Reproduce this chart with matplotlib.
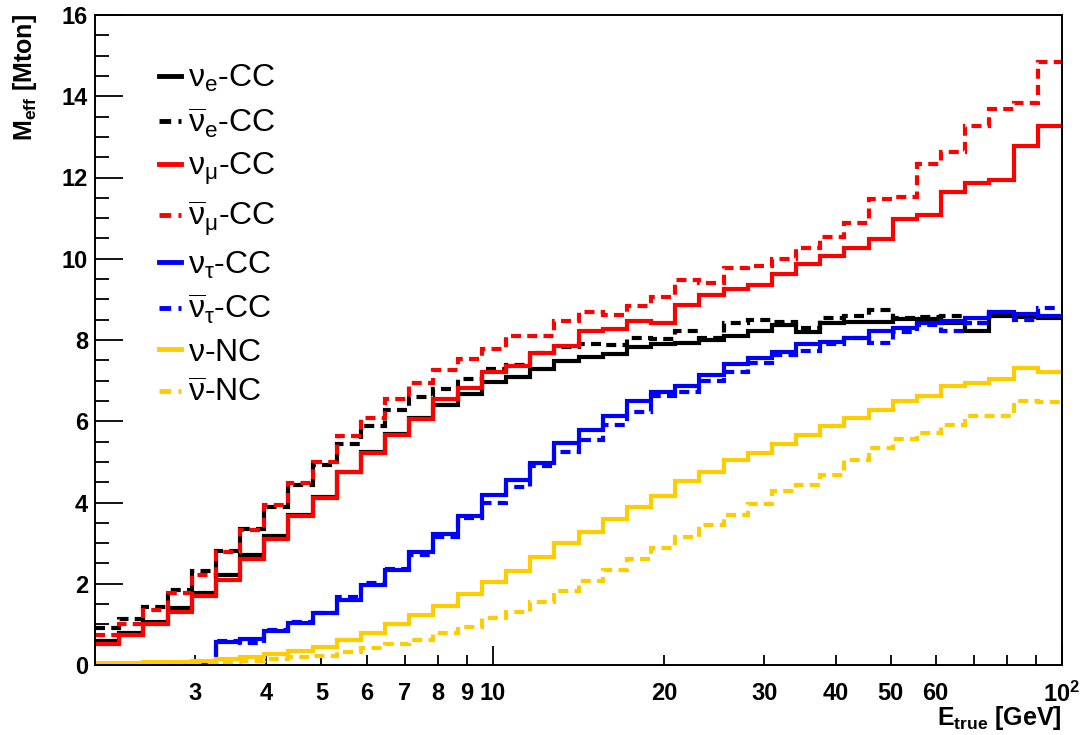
import numpy as np
import matplotlib
matplotlib.use("Agg")
import matplotlib.pyplot as plt
from matplotlib import font_manager
from matplotlib.lines import Line2D
from matplotlib.ticker import FixedLocator, FixedFormatter, MultipleLocator

# ---------------- data ----------------
E_MIN, E_MAX, N_BINS = 2.0, 100.0, 40   # log-spaced true-energy bins [GeV]

nue_cc = [0.58, 0.80, 1.07, 1.40, 1.77, 2.21, 2.70, 3.18, 3.70, 4.14,
          4.76, 5.25, 5.69, 6.09, 6.40, 6.67, 6.96, 7.08, 7.28, 7.49,
          7.57, 7.65, 7.84, 7.90, 7.92, 8.00, 8.09, 8.21, 8.36, 8.20,
          8.43, 8.44, 8.45, 8.51, 8.52, 8.42, 8.23, 8.58, 8.57, 8.54]
nuebar_cc = [0.90, 1.14, 1.42, 1.85, 2.32, 2.80, 3.36, 3.90, 4.43, 4.93,
             5.45, 5.89, 6.27, 6.59, 6.79, 7.04, 7.28, 7.39, 7.68, 7.84,
             7.90, 7.88, 8.05, 8.02, 8.21, 8.05, 8.43, 8.50, 8.45, 8.30,
             8.54, 8.58, 8.74, 8.54, 8.56, 8.58, 8.42, 8.65, 8.58, 8.56]
numu_cc = [0.52, 0.73, 1.00, 1.30, 1.70, 2.09, 2.60, 3.10, 3.66, 4.10,
           4.74, 5.22, 5.66, 6.06, 6.55, 6.82, 7.21, 7.36, 7.68, 7.86,
           8.21, 8.27, 8.48, 8.42, 8.87, 9.11, 9.25, 9.35, 9.62, 9.86,
           10.06, 10.26, 10.48, 10.98, 11.08, 11.64, 11.86, 11.95, 12.77, 13.26]
numubar_cc = [0.74, 1.02, 1.35, 1.78, 2.22, 2.78, 3.33, 3.93, 4.48, 5.00,
              5.63, 6.07, 6.55, 6.94, 7.26, 7.54, 7.79, 8.09, 8.10, 8.46,
              8.69, 8.62, 8.84, 9.05, 9.48, 9.40, 9.77, 9.83, 9.99, 10.26,
              10.53, 10.88, 11.48, 11.51, 12.33, 12.62, 13.26, 13.69, 13.83, 14.84]
nutau_cc = [0.00, 0.00, 0.00, 0.00, 0.00, 0.57, 0.63, 0.83, 1.03, 1.28,
            1.61, 1.97, 2.34, 2.79, 3.22, 3.67, 4.18, 4.56, 4.97, 5.46,
            5.79, 6.12, 6.49, 6.73, 6.86, 7.14, 7.41, 7.55, 7.70, 7.91,
            7.95, 8.06, 8.22, 8.29, 8.42, 8.48, 8.54, 8.69, 8.64, 8.60]
nutaubar_cc = [0.01, 0.01, 0.02, 0.02, 0.03, 0.60, 0.55, 0.85, 1.05, 1.27,
               1.68, 2.01, 2.36, 2.71, 3.16, 3.62, 4.00, 4.38, 4.90, 5.25,
               5.54, 5.90, 6.24, 6.61, 6.71, 7.00, 7.22, 7.43, 7.64, 7.72,
               7.90, 8.05, 7.92, 8.19, 8.37, 8.23, 8.42, 8.68, 8.50, 8.78]
nu_nc = [0.04, 0.05, 0.07, 0.08, 0.11, 0.15, 0.20, 0.26, 0.34, 0.45,
         0.62, 0.80, 1.02, 1.22, 1.46, 1.74, 2.05, 2.32, 2.67, 3.00,
         3.27, 3.59, 3.88, 4.17, 4.54, 4.76, 5.05, 5.21, 5.44, 5.66,
         5.89, 6.08, 6.28, 6.49, 6.63, 6.87, 6.94, 7.04, 7.32, 7.22]
nubar_nc = [0.02, 0.02, 0.03, 0.03, 0.05, 0.08, 0.10, 0.14, 0.19, 0.23,
            0.31, 0.41, 0.51, 0.61, 0.78, 0.94, 1.15, 1.31, 1.56, 1.81,
            2.08, 2.34, 2.60, 2.87, 3.14, 3.45, 3.69, 3.97, 4.29, 4.42,
            4.68, 5.05, 5.35, 5.57, 5.71, 5.91, 6.12, 6.14, 6.51, 6.47]

labels = [r'$\mathrm{\nu_{e}}$-CC', r'$\mathrm{\overline{\nu}_{e}}$-CC',
          r'$\mathrm{\nu_{\mu}}$-CC', r'$\mathrm{\overline{\nu}_{\mu}}$-CC',
          r'$\mathrm{\nu_{\tau}}$-CC', r'$\mathrm{\overline{\nu}_{\tau}}$-CC',
          r'$\mathrm{\nu}$-NC', r'$\mathrm{\overline{\nu}}$-NC']
series = [nue_cc, nuebar_cc, numu_cc, numubar_cc, nutau_cc, nutaubar_cc, nu_nc, nubar_nc]
colors = ['black', 'black', '#ff0000', '#ff0000', '#0000ff', '#0000ff', '#ffcc00', '#ffcc00']
styles = ['solid', 'dashed', 'solid', 'dashed', 'solid', 'dashed', 'solid', 'dashed']

xtick_major = [10, 100]
xtick_major_lbl = ['10', r'$\mathbf{10^{2}}$']
xtick_minor = [3, 4, 5, 6, 7, 8, 9, 20, 30, 40, 50, 60, 70, 80, 90]
xtick_minor_lbl = ['3', '4', '5', '6', '7', '8', '9', '20', '30', '40', '50', '60', '', '', '']

# ---------------- fonts ----------------
def has_font(name):
    try:
        font_manager.findfont(name, fallback_to_default=False)
        return True
    except Exception:
        return False

base = 'Liberation Sans' if has_font('Liberation Sans') else 'DejaVu Sans'
narrow = 'Liberation Sans Narrow' if has_font('Liberation Sans Narrow') else base
plt.rcParams['font.family'] = [base, 'DejaVu Sans']
plt.rcParams['mathtext.fontset'] = 'custom'
plt.rcParams['mathtext.rm'] = base
plt.rcParams['mathtext.it'] = base + ':italic'
plt.rcParams['mathtext.bf'] = base + ':bold'

# ---------------- figure ----------------
W, H = 1081, 735
fig = plt.figure(figsize=(W / 100, H / 100), dpi=100)
ax = fig.add_axes([95 / W, 1 - 665 / H, (1062 - 95) / W, (665 - 15) / H])

edges = np.logspace(np.log10(E_MIN), np.log10(E_MAX), N_BINS + 1)
dash = (2.4, 1.5)
for vals, c, ls in zip(series, colors, styles):
    st = ax.stairs(vals, edges, baseline=None, color=c, linewidth=3.0, zorder=3)
    if ls == 'dashed':
        st.set_linestyle((0, dash))

ax.set_xscale('log')
ax.set_xlim(E_MIN, E_MAX)
ax.set_ylim(0, 16)

# y ticks
ax.yaxis.set_major_locator(MultipleLocator(2))
ax.yaxis.set_minor_locator(MultipleLocator(0.5))
ax.tick_params(axis='y', which='major', direction='in', length=20, width=1.3,
               pad=5, labelsize=17, right=False)
ax.tick_params(axis='y', which='minor', direction='in', length=10, width=1.3, right=False)
for t in ax.get_yticklabels():
    t.set_fontweight('bold')

# x ticks
ax.xaxis.set_major_locator(FixedLocator(xtick_major))
ax.xaxis.set_major_formatter(FixedFormatter(xtick_major_lbl))
ax.xaxis.set_minor_locator(FixedLocator(xtick_minor))
ax.xaxis.set_minor_formatter(FixedFormatter(xtick_minor_lbl))
ax.tick_params(axis='x', which='major', direction='in', length=14, width=1.3,
               pad=12, labelsize=17, top=False)
ax.tick_params(axis='x', which='minor', direction='in', length=7, width=1.3,
               pad=12, labelsize=17, top=False)
for t in ax.get_xticklabels(which='both'):
    t.set_fontweight('bold')
    t.set_family([narrow, 'DejaVu Sans'])

for sp in ax.spines.values():
    sp.set_linewidth(1.4)
    sp.set_zorder(4)

# axis titles
fig.text(25 / W, 1 - 14 / H, r'$\mathbf{M_{eff}}$ [Mton]', rotation=90,
         ha='center', va='top', fontsize=18, fontweight='bold')
fig.text(1062 / W, 1 - 718 / H, r'$\mathbf{E_{true}}$ [GeV]',
         ha='right', va='center', fontsize=18, fontweight='bold')

# legend
handles = []
for c, ls in zip(colors, styles):
    h = Line2D([], [], color=c, linewidth=3.5)
    if ls == 'dashed':
        h.set_linestyle((0, dash))
    handles.append(h)
leg = ax.legend(handles, labels, loc='upper left', bbox_to_anchor=(64 / 967, 1 - 48 / 650),
                frameon=False, fontsize=23, handlelength=0.7, handletextpad=0.2,
                labelspacing=0.36, borderaxespad=0, borderpad=0)

fig.savefig('out.png', dpi=100)
